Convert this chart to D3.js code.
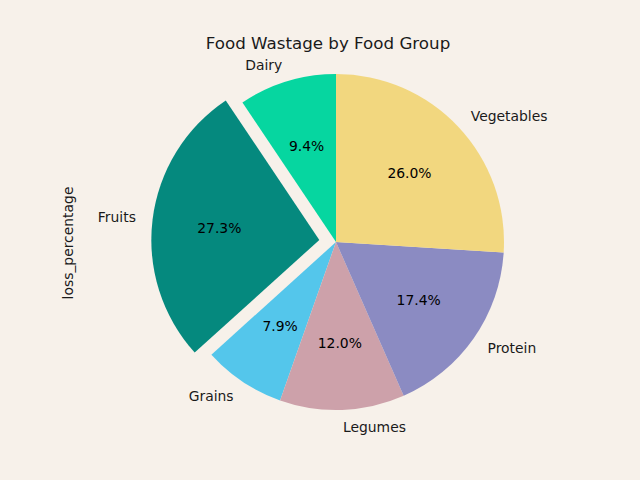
<!DOCTYPE html>
<html><head><meta charset="utf-8">
<script src="https://cdn.jsdelivr.net/npm/d3@7"></script>
<style>body{margin:0;background:#f7f1ea}svg{display:block}</style>
</head><body>
<script>
const categories = ["Dairy","Fruits","Grains","Legumes","Protein","Vegetables"];
const values = [9.4, 27.3, 7.9, 12.0, 17.4, 26.0];
const colors = ["#06d6a0","#05897e","#54c6eb","#cda1aa","#8b8bc2","#f2d77f"];
const explode = [0,0.1,0,0,0,0];
const title = "Food Wastage by Food Group";
const ylabel = "loss_percentage";

const W=640,H=480, cx=336, cy=242, R=168;
const font = "DejaVu Sans, sans-serif";
const svg = d3.select("body").append("svg").attr("width",W).attr("height",H);
svg.append("rect").attr("width",W).attr("height",H).attr("fill","#f7f1ea");

const total = d3.sum(values);
// matplotlib: startangle 90, counterclockwise. d3 angles: 0 at top, clockwise.
const pie = d3.pie().sort(null).value(d=>d)
  .startAngle(0).endAngle(-2*Math.PI);
const arcs = pie(values);
const arc = d3.arc().innerRadius(0).outerRadius(R);
const g = svg.append("g").attr("transform",`translate(${cx},${cy})`);

arcs.forEach((a,i)=>{
  const mid = (a.startAngle+a.endAngle)/2;
  const ox = Math.sin(mid)*explode[i]*R, oy = -Math.cos(mid)*explode[i]*R;
  const gg = g.append("g").attr("transform",`translate(${ox},${oy})`);
  gg.append("path").attr("d",arc(a)).attr("fill",colors[i]);
  const lr = 1.1*R;
  const lx = Math.sin(mid)*lr, ly = -Math.cos(mid)*lr;
  gg.append("text").attr("x",lx).attr("y",ly)
    .attr("text-anchor", lx<0?"end":"start").attr("dominant-baseline","central")
    .attr("font-family",font).attr("font-size","13.9px").attr("fill","#1a1a1a")
    .text(categories[i]);
  const pr = 0.6*R;
  gg.append("text").attr("x",Math.sin(mid)*pr).attr("y",-Math.cos(mid)*pr)
    .attr("text-anchor","middle").attr("dominant-baseline","central")
    .attr("font-family",font).attr("font-size","13.9px").attr("fill","#000")
    .text((a.value/total*100).toFixed(1)+"%");
});

svg.append("text").attr("x",328).attr("y",49).attr("text-anchor","middle")
  .attr("font-family",font).attr("font-size","16.7px").attr("fill","#1a1a1a").text(title);
svg.append("text").attr("transform","translate(73,243) rotate(-90)").attr("text-anchor","middle")
  .attr("font-family",font).attr("font-size","13.9px").attr("fill","#1a1a1a").text(ylabel);
</script>
</body></html>
